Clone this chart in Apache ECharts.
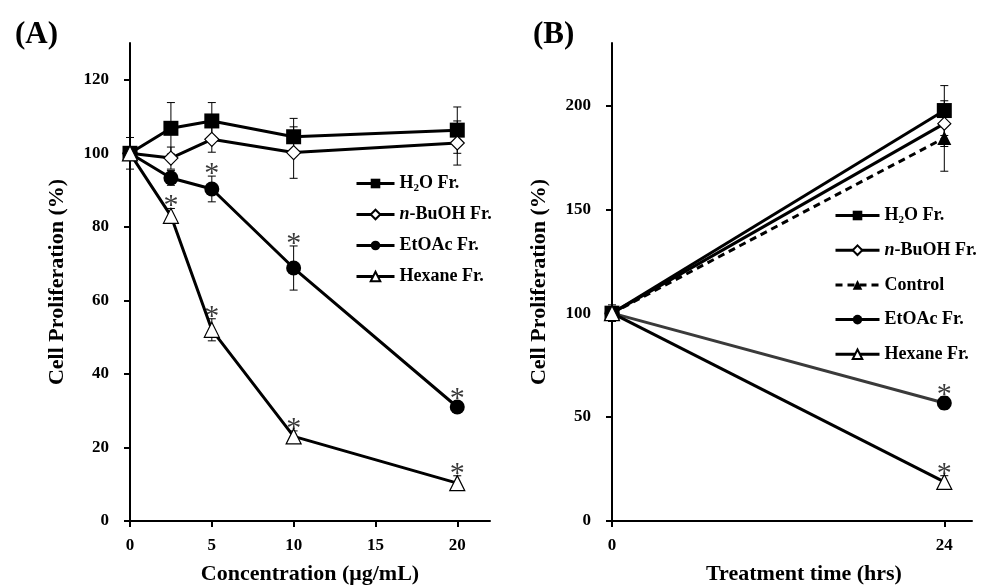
<!DOCTYPE html>
<html>
<head>
<meta charset="utf-8">
<script src="https://cdn.jsdelivr.net/npm/echarts@6/dist/echarts.min.js"></script>
<style>
  html, body { margin: 0; padding: 0; background: #fff; }
  #main { width: 987px; height: 586px; }
</style>
</head>
<body>
<div id="main"></div>
<script>
// panel A: concentration (ug/mL)
var concA = [0, 2.5, 5, 10, 20];
var h2oA = [100, 106.8, 108.8, 104.5, 106.3];
var h2oAErr = [4.3, 7, 5, 5, 6.3];
var buohA = [100, 98.7, 103.8, 100.2, 102.8];
var buohAErr = [0, 3, 3.5, 7, 6];
var etoacA = [100, 93.3, 90.3, 68.8, 31];
var etoacAErr = [0, 2, 3.5, 6, 1.5];
var etoacASig = [0, 0, 1, 1, 1];
var hexA = [100, 83, 52, 23, 10.3];
var hexAErr = [0, 2, 3, 1.5, 2];
var hexASig = [0, 1, 1, 1, 1];
var xTicksA = [0, 5, 10, 15, 20];
var yTicksA = [0, 20, 40, 60, 80, 100, 120];

// panel B: treatment time (hrs)
var timeB = [0, 24];
var h2oB = [100, 197.5];
var h2oBErr = [4, 12];
var buohB = [100, 191.2];
var buohBErr = [0, 11];
var ctrlB = [100, 184.3];
var ctrlBErr = [0, 16];
var etoacB = [100, 56.8];
var etoacBErr = [0, 3];
var etoacBSig = [0, 1];
var hexB = [100, 18.8];
var hexBErr = [0, 3];
var hexBSig = [0, 1];
var xTicksB = [0, 24];
var yTicksB = [0, 50, 100, 150, 200];

var serif = 'Liberation Serif';
var chart = echarts.init(document.getElementById('main'));

function pairs(xs, ys) {
  return xs.map(function (x, i) { return [x, ys[i]]; });
}
function errData(xs, ys, es, sig) {
  return xs.map(function (x, i) { return [x, ys[i], es[i], sig ? sig[i] : 0]; });
}

function renderErr(params, api) {
  var x = api.value(0), y = api.value(1), e = api.value(2), s = api.value(3);
  var kids = [];
  var top = api.coord([x, y + e]);
  var bot = api.coord([x, y - e]);
  var cw = 4;
  if (e > 0) {
    var st = { stroke: '#000', lineWidth: 1 };
    kids.push({ type: 'line', shape: { x1: top[0], y1: top[1], x2: bot[0], y2: bot[1] }, style: st });
    kids.push({ type: 'line', shape: { x1: top[0] - cw, y1: top[1], x2: top[0] + cw, y2: top[1] }, style: st });
    kids.push({ type: 'line', shape: { x1: bot[0] - cw, y1: bot[1], x2: bot[0] + cw, y2: bot[1] }, style: st });
  }
  if (s) {
    kids.push({
      type: 'text',
      style: {
        x: top[0], y: top[1] - 2, text: '*', align: 'center', verticalAlign: 'middle',
        fontFamily: serif, fontSize: 30, fill: '#3a3a3a'
      }
    });
  }
  return { type: 'group', children: kids };
}

function errSeries(xi, data) {
  return {
    type: 'custom', xAxisIndex: xi, yAxisIndex: xi, z: 1, silent: true,
    renderItem: renderErr, data: data
  };
}

function lineSeries(xi, name, data, symbol, size, fill, lineColor, dashed) {
  return {
    type: 'line', name: name, xAxisIndex: xi, yAxisIndex: xi, z: 3,
    data: data, symbol: symbol, symbolSize: size,
    lineStyle: { color: lineColor || '#000', width: 3, type: dashed ? [7, 5] : 'solid' },
    itemStyle: { color: fill, borderColor: '#000', borderWidth: fill === '#fff' ? 1.2 : 0 },
    emphasis: { disabled: true }
  };
}

var names = {
  'H2O Fr.': '{t|H}{sub|2}{t|O Fr.}',
  'n-BuOH Fr.': '{it|n}{t|-BuOH Fr.}',
  'EtOAc Fr.': '{t|EtOAc Fr.}',
  'Hexane Fr.': '{t|Hexane Fr.}',
  'Control': '{t|Control}'
};
var rich = {
  t: { fontFamily: serif, fontWeight: 'bold', fontSize: 18, color: '#000' },
  sub: { fontFamily: serif, fontWeight: 'bold', fontSize: 11, color: '#000', verticalAlign: 'bottom', padding: [6, 0, 0, 0] },
  it: { fontFamily: serif, fontWeight: 'bold', fontStyle: 'italic', fontSize: 18, color: '#000' }
};

function xAxis(gi, max, ticks, name) {
  return {
    type: 'value', gridIndex: gi, min: 0, max: max,
    name: name, nameLocation: 'middle', nameGap: 42,
    nameTextStyle: { fontFamily: serif, fontWeight: 'bold', fontSize: 22, color: '#000', padding: gi ? [0, 0, 0, 24] : 0 },
    axisLine: { lineStyle: { color: '#000', width: 2 } },
    axisTick: { show: true, length: 6, customValues: ticks, lineStyle: { color: '#000', width: 2 } },
    axisLabel: { customValues: ticks, margin: 16, fontFamily: serif, fontWeight: 'bold', fontSize: 17, color: '#000' },
    splitLine: { show: false }
  };
}
function yAxis(gi, max, ticks) {
  return {
    type: 'value', gridIndex: gi, min: 0, max: max,
    name: 'Cell Proliferation (%)', nameLocation: 'middle', nameGap: 62,
    nameTextStyle: { fontFamily: serif, fontWeight: 'bold', fontSize: 22, color: '#000' },
    axisLine: { show: true, lineStyle: { color: '#000', width: 2 } },
    axisTick: { show: true, length: 6, customValues: ticks, lineStyle: { color: '#000', width: 2 } },
    axisLabel: { customValues: ticks, margin: 21, fontFamily: serif, fontWeight: 'bold', fontSize: 17, color: '#000' },
    splitLine: { show: false }
  };
}

var option = {
  backgroundColor: '#fff',
  animation: false,
  title: [
    { text: '(A)', left: 10, top: 14, textStyle: { fontFamily: serif, fontWeight: 'bold', fontSize: 31, color: '#000' } },
    { text: '(B)', left: 528, top: 14, textStyle: { fontFamily: serif, fontWeight: 'bold', fontSize: 31, color: '#000' } }
  ],
  grid: [
    { left: 130, top: 43, width: 360, height: 478, outerBoundsMode: 'none' },
    { left: 612, top: 43, width: 360, height: 478, outerBoundsMode: 'none' }
  ],
  xAxis: [
    xAxis(0, 22, xTicksA, 'Concentration (\u03bcg/mL)'),
    xAxis(1, 26, xTicksB, 'Treatment time (hrs)')
  ],
  yAxis: [
    yAxis(0, 130, yTicksA),
    yAxis(1, 230, yTicksB)
  ],
  legend: [
    {
      data: ['H2O Fr.', 'n-BuOH Fr.', 'EtOAc Fr.', 'Hexane Fr.'],
      orient: 'vertical', left: 350, top: 168,
      itemWidth: 38, itemHeight: 12, itemGap: 10,
      lineStyle: { width: 3 },
      formatter: function (n) { return names[n]; },
      textStyle: { rich: rich, lineHeight: 21 },
      selectedMode: false
    },
    {
      data: ['H2O Fr.', 'n-BuOH Fr.', 'Control', 'EtOAc Fr.', 'Hexane Fr.'],
      orient: 'vertical', left: 829, top: 200,
      itemWidth: 44, itemHeight: 12, itemGap: 13.7,
      lineStyle: { width: 3 },
      formatter: function (n) { return names[n]; },
      textStyle: { rich: rich, lineHeight: 21 },
      selectedMode: false
    }
  ],
  series: [
    errSeries(0, errData(concA, h2oA, h2oAErr)),
    errSeries(0, errData(concA, buohA, buohAErr)),
    errSeries(0, errData(concA, etoacA, etoacAErr, etoacASig)),
    errSeries(0, errData(concA, hexA, hexAErr, hexASig)),
    lineSeries(0, 'H2O Fr.', pairs(concA, h2oA), 'rect', 15, '#000'),
    lineSeries(0, 'n-BuOH Fr.', pairs(concA, buohA), 'diamond', 14, '#fff'),
    lineSeries(0, 'EtOAc Fr.', pairs(concA, etoacA), 'circle', 15, '#000'),
    lineSeries(0, 'Hexane Fr.', pairs(concA, hexA), 'triangle', 15, '#fff'),

    errSeries(1, errData(timeB, h2oB, h2oBErr)),
    errSeries(1, errData(timeB, buohB, buohBErr)),
    errSeries(1, errData(timeB, ctrlB, ctrlBErr)),
    errSeries(1, errData(timeB, etoacB, etoacBErr, etoacBSig)),
    errSeries(1, errData(timeB, hexB, hexBErr, hexBSig)),
    lineSeries(1, 'H2O Fr.', pairs(timeB, h2oB), 'rect', 15, '#000'),
    lineSeries(1, 'n-BuOH Fr.', pairs(timeB, buohB), 'diamond', 13, '#fff'),
    lineSeries(1, 'Control', pairs(timeB, ctrlB), 'triangle', 14, '#000', '#000', true),
    lineSeries(1, 'EtOAc Fr.', pairs(timeB, etoacB), 'circle', 15, '#000', '#3a3a3a'),
    lineSeries(1, 'Hexane Fr.', pairs(timeB, hexB), 'triangle', 15, '#fff')
  ]
};
chart.setOption(option);
</script>
</body>
</html>
